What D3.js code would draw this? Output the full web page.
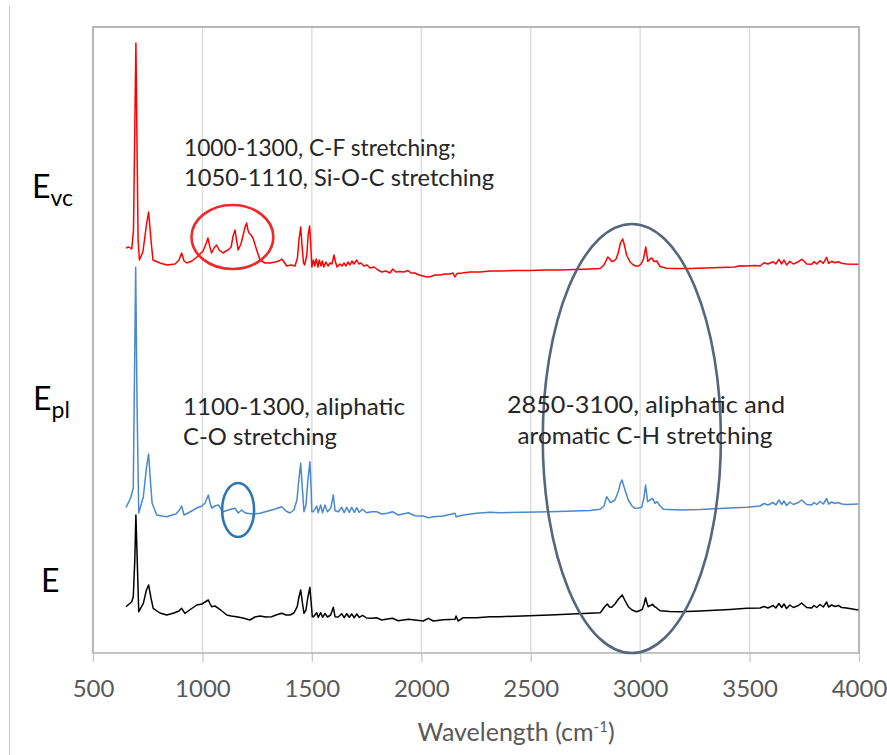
<!DOCTYPE html>
<html>
<head>
<meta charset="utf-8">
<script src="https://cdn.jsdelivr.net/npm/d3@7"></script>
<style>
  body { margin: 0; background: #fff; }
  text { font-family: Lato, "Open Sans", sans-serif; }
</style>
</head>
<body>
<svg id="chart" width="887" height="755"></svg>
<script>
// margins & dimensions
const margin = { top: 27, right: 28, bottom: 102, left: 93 };
const width = 887 - margin.left - margin.right;
const height = 755 - margin.top - margin.bottom;

// x-axis range (wavenumber) and ticks
const minWave = 500;
const maxWave = 4000;
const tickValues = [500, 1000, 1500, 2000, 2500, 3000, 3500, 4000];

// spectra: [wavenumber, intensity (a.u., offset stacked)]
const redSpectrum = [
  [651,405],[664,406],[677,404],[685,423],[696,610],[706,413],[712,393],[728,401],[744,428],[754,441],
  [765,413],[774,393],[806,390],[838,388],[875,389],[893,393],[905,400],[916,392],[929,390],[952,392],
  [975,396],[1003,402],[1016,409],[1025,415],[1035,405],[1042,400],[1053,405],[1065,408],[1076,403],[1094,400],
  [1108,402],[1117,403],[1131,406],[1140,417],[1149,423],[1156,413],[1163,403],[1176,409],[1185,417],[1195,426],
  [1202,430],[1208,423],[1213,420],[1222,418],[1231,415],[1245,405],[1263,393],[1286,390],[1309,390],[1332,391],
  [1350,392],[1362,394],[1373,391],[1385,387],[1405,388],[1423,387],[1434,395],[1441,413],[1449,426],[1455,408],
  [1462,390],[1467,388],[1477,398],[1483,418],[1490,427],[1495,408],[1500,386],[1507,393],[1513,387],[1520,394],
  [1528,386],[1534,393],[1542,387],[1548,392],[1555,386],[1564,391],[1574,387],[1583,390],[1592,389],[1601,398],
  [1608,391],[1615,386],[1628,389],[1638,387],[1647,390],[1656,387],[1665,391],[1674,388],[1683,392],[1692,389],
  [1705,393],[1715,389],[1724,390],[1738,387],[1752,388],[1766,385],[1784,386],[1802,383],[1820,381],[1838,382],
  [1857,380],[1870,384],[1884,381],[1903,381.5],[1921,381],[1939,382.5],[1953,380],[1971,380],[1990,378],[2008,377],
  [2026,376],[2044,376.5],[2063,378],[2085,378],[2108,379],[2131,379],[2145,380],[2154,376],[2163,379.5],[2186,380],
  [2223,381],[2268,381],[2314,382],[2360,382],[2428,382.5],[2497,382.5],[2565,383],[2634,383],[2702,383.5],[2771,384],
  [2817,384.5],[2835,388],[2852,396],[2862,394],[2870,391.5],[2880,392],[2890,394],[2901,401],[2910,410],[2920,414],
  [2928,408],[2938,398],[2954,391],[2969,388],[2981,387],[2992,387],[3004,389],[3015,394],[3026,406],[3035,391.5],
  [3045,394],[3053,395],[3063,391.5],[3076,392],[3091,386.5],[3121,384.7],[3159,384.5],[3228,384.5],[3296,385],[3365,385.5],
  [3433,386],[3456,387.3],[3484,387],[3525,387.5],[3548,387],[3566,390.3],[3584,389],[3608,391.3],[3620,389],[3634,393.7],
  [3647,389],[3657,393],[3669,388],[3684,391.7],[3700,389],[3723,391.3],[3738,393.7],[3748,392],[3761,389],[3784,388.7],
  [3794,391.3],[3807,389],[3822,392.3],[3837,389.7],[3852,395.7],[3861,389.7],[3875,391.7],[3890,390.3],[3905,391.3],[3921,389.7],
  [3943,389],[3997,388.7]
];

const blueSpectrum = [
  [651,145.7],[672,155],[684,165],[695,385.7],[701,253],[709,140],[730,156.3],[744,185],[754,199],[762,173],
  [770,150],[791,138],[815,137],[837,136.3],[861,138],[879,139],[895,143],[905,147],[916,138],[943,141],
  [974,145],[998,147],[1012,150],[1027,158],[1035,150],[1042,145],[1057,147],[1073,148],[1085,144],[1095,141.3],
  [1117,143],[1135,144],[1149,144.7],[1164,140],[1179,143],[1190,141],[1202,139.7],[1231,139],[1263,139.7],[1300,142],
  [1332,144],[1362,146.3],[1382,142],[1400,140],[1418,143],[1432,153],[1438,168],[1449,189.7],[1457,163],[1464,141.3],
  [1473,148],[1482,173],[1491,191.3],[1497,163],[1500,141.3],[1507,141.3],[1522,147],[1529,140.3],[1540,148],[1549,140.3],
  [1560,148],[1571,141.3],[1586,144.7],[1598,158],[1606,142.3],[1621,141.3],[1636,145.7],[1648,140.3],[1659,145.7],[1671,140.7],
  [1682,145.7],[1694,140.7],[1705,145.3],[1716,140.7],[1732,143.7],[1750,140.3],[1773,141.3],[1796,141.3],[1819,139],[1845,139.7],
  [1868,141.3],[1895,138],[1941,140.3],[1971,137.3],[2009,137],[2032,135.3],[2055,136.3],[2101,137],[2154,139.7],[2159,136.3],
  [2192,138],[2253,139.7],[2314,140.7],[2360,140.3],[2588,141.3],[2771,142.5],[2817,143.7],[2835,147],[2847,156.3],[2865,150.3],
  [2885,153],[2901,162],[2910,170],[2917,173],[2928,165],[2946,153],[2963,147],[2976,144.7],[2992,145],[3007,145.7],
  [3017,155],[3025,168],[3034,151.3],[3045,153],[3057,154.7],[3068,149.7],[3078,151.3],[3091,147],[3106,143.7],[3182,143],
  [3273,143.5],[3410,145],[3487,145.7],[3548,147],[3566,149.5],[3584,148],[3608,150.5],[3620,148],[3634,153],[3647,148.5],
  [3657,152],[3669,147.5],[3684,151],[3700,148.5],[3723,150.5],[3738,153],[3748,151],[3761,148.5],[3784,148],[3794,150.5],
  [3807,148.5],[3822,151.5],[3837,149],[3852,154.5],[3861,149],[3875,151],[3890,149.5],[3905,150.5],[3921,149],[3943,148.5],
  [3997,149]
];

const blackSpectrum = [
  [651,46.3],[677,51.3],[684,56.3],[691,93],[696,138],[702,93],[709,41.3],[730,49.7],[744,63],[754,68],
  [765,55],[775,44.7],[806,40],[837,38],[870,40],[893,42],[905,44.7],[920,39.7],[948,44],[974,48],
  [998,49],[1012,51],[1027,53],[1035,49],[1042,46.3],[1057,47],[1073,44.7],[1089,42],[1111,38],[1131,37],
  [1156,36.3],[1185,35],[1217,33],[1240,36],[1263,37],[1290,36],[1316,36.3],[1336,38],[1362,39.7],[1382,38],
  [1400,38],[1418,40],[1433,46.3],[1441,56],[1449,63],[1457,50],[1464,39.7],[1473,43],[1482,56],[1491,65.7],
  [1497,50],[1502,36.3],[1507,36.3],[1522,40.3],[1529,35.7],[1540,40.3],[1549,35.7],[1560,39.7],[1571,36],[1586,38],
  [1598,45.7],[1606,36.3],[1621,36],[1636,39.3],[1648,35.3],[1659,39.3],[1671,35.7],[1682,39],[1694,35.3],[1705,39],
  [1716,35.7],[1732,37.7],[1750,35],[1773,34.7],[1796,35.3],[1819,33],[1845,34],[1868,34.7],[1895,32.3],[1941,33.7],
  [1971,33],[2009,32],[2032,34.7],[2055,32],[2101,33.3],[2154,33.7],[2159,37],[2168,32],[2192,35.3],[2253,35.3],
  [2314,36.3],[2360,36.3],[2588,38],[2817,40.3],[2824,42],[2837,46],[2850,49],[2860,46],[2870,45.7],[2885,49],
  [2901,54],[2918,58],[2932,52],[2946,46.3],[2963,43],[2984,41.3],[2999,42.5],[3010,43.7],[3018,49],[3025,55.3],
  [3031,50],[3037,46.3],[3047,47.5],[3057,48.7],[3065,46.5],[3072,45.7],[3081,44],[3091,42.3],[3136,41.5],[3182,41.3],
  [3273,42],[3410,43.5],[3487,44.7],[3548,45],[3566,46.5],[3584,45],[3608,47.5],[3620,45],[3634,49.5],[3647,45.5],
  [3657,49],[3669,44.5],[3684,48],[3700,45.5],[3723,47.5],[3738,50],[3748,48],[3761,45.5],[3784,45],[3794,47.5],
  [3807,45.5],[3822,48.5],[3837,46],[3852,51],[3861,46],[3875,48],[3890,46.5],[3905,47.5],[3921,45.5],[3943,45],
  [3997,43]
];

// series labels
const seriesNames = ["E", "E", "E"];
const seriesSubs = ["vc", "pl", ""];

// annotation ellipses in data units: [centre wavenumber, centre intensity, half-width (cm-1), half-height]
const markRed = [1137, 416, 187, 32];
const markBlue = [1163, 143, 73, 27];
const markGray = [2962, 214.5, 407, 214.5];

const annotationLines = [
  "1000-1300, C-F stretching;",
  "1050-1110, Si-O-C stretching",
  "1100-1300, aliphatic",
  "C-O stretching",
  "2850-3100, aliphatic and",
  "aromatic C-H stretching"
];

// scales
const x = d3.scaleLinear().domain([minWave, maxWave]).range([0, width]);
const y = d3.scaleLinear().domain([0, 626]).range([height, 0]);

const svg = d3.select("#chart");

// outer chart edge line on the left
svg.append("line")
  .attr("x1", 9.5).attr("x2", 9.5).attr("y1", 6).attr("y2", 755)
  .attr("stroke", "#c8c8c8").attr("stroke-width", 1);

const g = svg.append("g").attr("transform", `translate(${margin.left},${margin.top})`);

// vertical gridlines
g.append("g")
  .selectAll("line")
  .data(tickValues.slice(1, -1))
  .join("line")
  .attr("x1", d => x(d)).attr("x2", d => x(d))
  .attr("y1", 0).attr("y2", height)
  .attr("stroke", "#d9d9d9").attr("stroke-width", 1.3);

// x axis
const xAxis = g.append("g")
  .attr("transform", `translate(0,${height})`)
  .call(d3.axisBottom(x).tickValues(tickValues).tickFormat(d3.format("d")).tickSize(9).tickPadding(18));
xAxis.select(".domain").remove();
xAxis.selectAll(".tick line").attr("stroke", "#c8c8c8").attr("stroke-width", 1.3);
xAxis.selectAll(".tick text")
  .attr("fill", "#595959")
  .style("font-size", "24px")
  .style("font-family", "Lato, sans-serif");

// plot area border
g.append("rect")
  .attr("width", width).attr("height", height)
  .attr("fill", "none").attr("stroke", "#a6a6a6").attr("stroke-width", 1.6);
g.append("line")
  .attr("x1", 0).attr("x2", width).attr("y1", height).attr("y2", height)
  .attr("stroke", "#c8c8c8").attr("stroke-width", 1.6);

// axis title
const title = svg.append("text")
  .attr("x", 516).attr("y", 741)
  .attr("text-anchor", "middle")
  .attr("fill", "#595959")
  .style("font-size", "25px");
title.append("tspan").text("Wavelength (cm");
title.append("tspan").attr("dy", -9).style("font-size", "15px").text("-1");
title.append("tspan").attr("dy", 9).text(")");

// spectra
const line = d3.line().x(d => x(d[0])).y(d => y(d[1]));
[[blackSpectrum, "#000000"], [blueSpectrum, "#4a89cb"], [redSpectrum, "#ff0000"]].forEach(([data, color]) => {
  g.append("path")
    .datum(data)
    .attr("d", line)
    .attr("fill", "none")
    .attr("stroke", color)
    .attr("stroke-width", 1.5)
    .attr("stroke-linejoin", "round");
});

// ellipses
function ellipse(m, color) {
  g.append("ellipse")
    .attr("cx", x(m[0])).attr("cy", y(m[1]))
    .attr("rx", x(m[0] + m[2]) - x(m[0]))
    .attr("ry", y(0) - y(m[3]))
    .attr("fill", "none")
    .attr("stroke", color)
    .attr("stroke-width", 2.6);
}
ellipse(markGray, "#56667c");
ellipse(markRed, "#f0282a");
ellipse(markBlue, "#2e75b6");

// annotation text
const annoPos = [
  { x: 184, y: 156, w: 272, anchor: "start" },
  { x: 184, y: 186, w: 310, anchor: "start" },
  { x: 183, y: 415, w: 222, anchor: "start" },
  { x: 183, y: 445, w: 154, anchor: "start" },
  { x: 646, y: 413, w: 278, anchor: "middle" },
  { x: 645, y: 444, w: 255, anchor: "middle" }
];
svg.append("g")
  .selectAll("text")
  .data(annotationLines)
  .join("text")
  .attr("x", (d, i) => annoPos[i].x)
  .attr("y", (d, i) => annoPos[i].y)
  .attr("text-anchor", (d, i) => annoPos[i].anchor)
  .attr("textLength", (d, i) => annoPos[i].w)
  .attr("lengthAdjust", "spacingAndGlyphs")
  .attr("fill", "#262626")
  .style("font-size", "23px")
  .text(d => d);

// series labels on the left
const labelPos = [[32, 198], [33, 410], [41, 592]];
seriesNames.forEach((name, i) => {
  const t = svg.append("text")
    .attr("x", labelPos[i][0]).attr("y", labelPos[i][1])
    .attr("fill", "#000")
    .style("font-size", "32px");
  t.append("tspan").text(name);
  if (seriesSubs[i]) {
    t.append("tspan").attr("dy", 8).style("font-size", "23px").text(seriesSubs[i]);
  }
});
</script>
</body>
</html>
